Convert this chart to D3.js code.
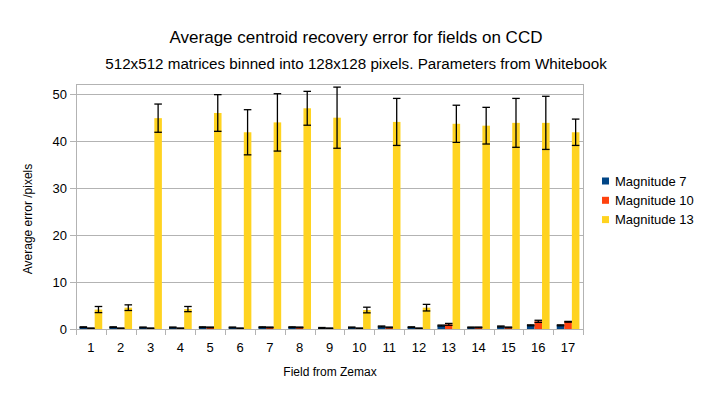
<!DOCTYPE html>
<html>
<head>
<meta charset="utf-8">
<script src="https://cdn.jsdelivr.net/npm/d3@7"></script>
<style>
  body { margin: 0; background: #fff; }
  text { font-family: "Liberation Sans", Arial, sans-serif; fill: #000; }
</style>
</head>
<body>
<div id="chart"></div>
<script>
// chart data
var fields = ["1","2","3","4","5","6","7","8","9","10","11","12","13","14","15","16","17"];
var seriesNames = ["Magnitude 7", "Magnitude 10", "Magnitude 13"];
var mag7 = [0.45, 0.45, 0.4, 0.4, 0.45, 0.4, 0.45, 0.45, 0.3, 0.4, 0.6, 0.45, 0.8, 0.4, 0.6, 0.85, 0.85];
var mag7Err = [0.08, 0.08, 0.08, 0.08, 0.08, 0.08, 0.08, 0.08, 0.08, 0.08, 0.1, 0.08, 0.1, 0.08, 0.1, 0.1, 0.1];
var mag10 = [0.2, 0.2, 0.2, 0.2, 0.4, 0.2, 0.4, 0.4, 0.2, 0.2, 0.4, 0.2, 1.05, 0.4, 0.4, 1.7, 1.6];
var mag10Err = [0.08, 0.08, 0.08, 0.08, 0.08, 0.08, 0.08, 0.08, 0.08, 0.08, 0.08, 0.08, 0.2, 0.08, 0.08, 0.22, 0.08];
var mag13 = [4.2, 4.6, 44.9, 4.3, 46.0, 41.9, 44.0, 47.0, 45.0, 4.1, 44.1, 4.6, 43.7, 43.3, 43.9, 43.9, 41.9];
var mag13Err = [0.65, 0.6, 3.0, 0.55, 3.9, 4.8, 6.1, 3.6, 6.5, 0.6, 5.0, 0.7, 3.95, 3.9, 5.2, 5.65, 2.8];
var yTicks = [0, 10, 20, 30, 40, 50];

var colors = ["#004586", "#ff420e", "#ffd320"];

var svgWidth = 704;
var svgHeight = 399;

// plot area
var plotLeft = 76, plotRight = 583, plotTop = 84.3, plotBottom = 329.3;

var svg = d3.select("#chart")
  .append("svg")
  .attr("width", svgWidth)
  .attr("height", svgHeight);

// build rows for drawing
var values = [mag7, mag10, mag13];
var errors = [mag7Err, mag10Err, mag13Err];
var rows = [];
fields.forEach(function(f, i) {
  seriesNames.forEach(function(s, j) {
    rows.push({ field: f, series: s, idx: j, value: values[j][i], err: errors[j][i] });
  });
});

// scales
var xScale = d3.scaleBand()
  .domain(fields)
  .range([plotLeft, plotRight])
  .paddingInner(0.24)
  .paddingOuter(0.12);

var xInner = d3.scaleBand()
  .domain(seriesNames)
  .range([0, xScale.bandwidth()]);

var yScale = d3.scaleLinear()
  .domain([0, 52.1])
  .range([plotBottom, plotTop]);

// gridlines
svg.append("g")
  .selectAll("line")
  .data(yTicks)
  .enter()
  .append("line")
  .attr("x1", plotLeft - 6)
  .attr("x2", plotRight)
  .attr("y1", d => Math.round(yScale(d)) + 0.5)
  .attr("y2", d => Math.round(yScale(d)) + 0.5)
  .attr("stroke", "#b3b3b3")
  .attr("stroke-width", 1);

// plot frame
svg.append("rect")
  .attr("x", plotLeft + 0.5)
  .attr("y", Math.round(plotTop) + 0.5)
  .attr("width", plotRight - plotLeft)
  .attr("height", Math.round(plotBottom) - Math.round(plotTop))
  .attr("fill", "none")
  .attr("stroke", "#b3b3b3");

// x ticks at the category boundaries
var step = xScale.step();
var boundaries = d3.range(fields.length + 1);
svg.append("g")
  .selectAll("line")
  .data(boundaries)
  .enter()
  .append("line")
  .attr("x1", d => Math.round(plotLeft + d * step) + 0.5)
  .attr("x2", d => Math.round(plotLeft + d * step) + 0.5)
  .attr("y1", Math.round(plotBottom))
  .attr("y2", Math.round(plotBottom) + 6)
  .attr("stroke", "#b3b3b3");

// bars
svg.append("g")
  .selectAll("rect")
  .data(rows)
  .enter()
  .append("rect")
  .attr("x", d => xScale(d.field) + xInner(d.series))
  .attr("y", d => yScale(d.value))
  .attr("width", xInner.bandwidth())
  .attr("height", d => yScale(0) - yScale(d.value))
  .attr("fill", d => colors[d.idx]);

// error bars
var errGroup = svg.append("g")
  .attr("stroke", "#000")
  .attr("stroke-width", 1.3);

errGroup.selectAll(".stem")
  .data(rows)
  .enter()
  .append("line")
  .attr("class", "stem")
  .attr("x1", d => xScale(d.field) + xInner(d.series) + xInner.bandwidth() / 2)
  .attr("x2", d => xScale(d.field) + xInner(d.series) + xInner.bandwidth() / 2)
  .attr("y1", d => yScale(d.value + d.err))
  .attr("y2", d => yScale(d.value - d.err));

errGroup.selectAll(".capTop")
  .data(rows)
  .enter()
  .append("line")
  .attr("class", "capTop")
  .attr("x1", d => xScale(d.field) + xInner(d.series))
  .attr("x2", d => xScale(d.field) + xInner(d.series) + xInner.bandwidth())
  .attr("y1", d => yScale(d.value + d.err))
  .attr("y2", d => yScale(d.value + d.err));

errGroup.selectAll(".capBot")
  .data(rows)
  .enter()
  .append("line")
  .attr("class", "capBot")
  .attr("x1", d => xScale(d.field) + xInner(d.series))
  .attr("x2", d => xScale(d.field) + xInner(d.series) + xInner.bandwidth())
  .attr("y1", d => yScale(d.value - d.err))
  .attr("y2", d => yScale(d.value - d.err));

// x axis line
svg.append("line")
  .attr("x1", plotLeft)
  .attr("x2", plotRight + 1)
  .attr("y1", Math.round(plotBottom) + 0.5)
  .attr("y2", Math.round(plotBottom) + 0.5)
  .attr("stroke", "#b3b3b3");

// y tick labels
svg.append("g")
  .selectAll("text")
  .data(yTicks)
  .enter()
  .append("text")
  .attr("x", plotLeft - 9)
  .attr("y", d => yScale(d))
  .attr("dy", "0.36em")
  .attr("text-anchor", "end")
  .attr("font-size", 13)
  .text(d => d);

// x tick labels
svg.append("g")
  .selectAll("text")
  .data(fields)
  .enter()
  .append("text")
  .attr("x", d => xScale(d) + xScale.bandwidth() / 2)
  .attr("y", 352)
  .attr("text-anchor", "middle")
  .attr("font-size", 13)
  .text(d => d);

// titles
svg.append("text")
  .attr("x", 356)
  .attr("y", 43)
  .attr("text-anchor", "middle")
  .attr("font-size", 17)
  .text("Average centroid recovery error for fields on CCD");

svg.append("text")
  .attr("x", 356)
  .attr("y", 69)
  .attr("text-anchor", "middle")
  .attr("font-size", 15.2)
  .text("512x512 matrices binned into 128x128 pixels. Parameters from Whitebook");

// axis titles
svg.append("text")
  .attr("transform", "translate(32, 219) rotate(-90)")
  .attr("text-anchor", "middle")
  .attr("font-size", 12)
  .text("Average error /pixels");

svg.append("text")
  .attr("x", 330)
  .attr("y", 376)
  .attr("text-anchor", "middle")
  .attr("font-size", 12)
  .text("Field from Zemax");

// legend
var legend = svg.append("g")
  .selectAll("g")
  .data(seriesNames)
  .enter()
  .append("g")
  .attr("transform", (d, i) => `translate(602, ${181 + i * 19.3})`);

legend.append("rect")
  .attr("x", 0)
  .attr("y", -3.5)
  .attr("width", 7)
  .attr("height", 7)
  .attr("fill", (d, i) => colors[i]);

legend.append("text")
  .attr("x", 13)
  .attr("dy", "0.36em")
  .attr("font-size", 13)
  .text(d => d);
</script>
</body>
</html>
